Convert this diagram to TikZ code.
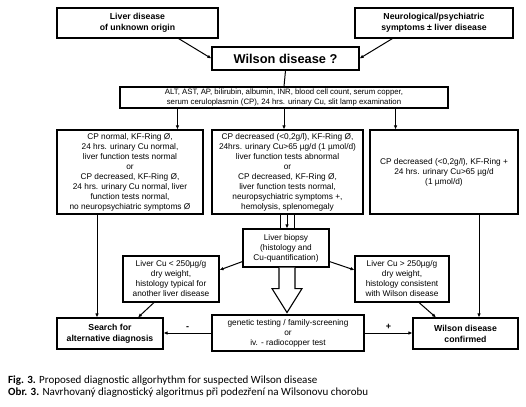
\documentclass[tikz,border=0pt]{standalone}
\usepackage{fontspec}
\setmainfont{Liberation Sans}
\newfontfamily\capfont{Carlito}
\usetikzlibrary{arrows.meta,calc}
\begin{document}
\begin{tikzpicture}[x=1pt,y=-1pt,
  box/.style={draw, line width=1.1pt, align=center, inner sep=1pt, font=\fontsize{8.3}{10}\selectfont},
  bbox/.style={box, font=\fontsize{8.7}{11}\selectfont\bfseries},
  arr/.style={line width=1pt, -{Latex[length=4pt,width=3.5pt]}},
  ln/.style={line width=1pt},
  fat/.style={draw, line width=1.1pt, fill=white, line join=miter},
  lbl/.style={font=\fontsize{9}{10}\selectfont\bfseries, inner sep=1pt}]
\useasboundingbox (0,0) rectangle (526,406);
% nodes
\node[bbox, minimum width=161, minimum height=30] (liver) at (137.5,23) {Liver disease\\of unknown origin};
\node[bbox, minimum width=158, minimum height=30] (neuro) at (434,23) {Neurological/psychiatric\\symptoms ± liver disease};
\node[box, minimum width=147, minimum height=23, font=\fontsize{12.8}{14}\selectfont\bfseries] (wilson) at (285.5,58.5) {Wilson disease ?};
\node[box, minimum width=328, minimum height=21, font=\fontsize{7.8}{9.2}\selectfont] (tests) at (284,97.5) {ALT, AST, AP, bilirubin, albumin, INR, blood cell count, serum copper,\\serum ceruloplasmin (CP), 24 hrs. urinary Cu, slit lamp examination};
\node[box, minimum width=146, minimum height=84] (leftbox) at (130,172) {CP normal, KF-Ring Ø,\\24 hrs. urinary Cu normal,\\liver function tests normal\\or\\CP decreased, KF-Ring Ø,\\24 hrs. urinary Cu normal, liver\\function tests normal,\\no neuropsychiatric symptoms Ø};
\node[box, minimum width=151, minimum height=84] (midbox) at (287.5,172) {CP decreased (<0,2g/l), KF-Ring Ø,\\24hrs. urinary Cu>65 µg/d (1 µmol/d)\\liver function tests abnormal\\or\\CP decreased, KF-Ring Ø,\\liver function tests normal,\\neuropsychiatric symptoms +,\\hemolysis, splenomegaly};
\node[box, minimum width=148, minimum height=84] (rightbox) at (444,172) {CP decreased (<0,2g/l), KF-Ring +\\24 hrs. urinary Cu>65 µg/d\\(1 µmol/d)};
\node[box, minimum width=86, minimum height=38] (biopsy) at (286,248) {Liver biopsy\\(histology and\\Cu-quantification)};
\node[box, minimum width=96, minimum height=46] (culow) at (171,279) {Liver Cu < 250µg/g\\dry weight,\\histology typical for\\another liver disease};
\node[box, minimum width=94, minimum height=46] (cuhigh) at (402,279) {Liver Cu > 250µg/g\\dry weight,\\histology consistent\\with Wilson disease};
\node[bbox, minimum width=106, minimum height=31] (search) at (110,333.5) {Search for\\alternative diagnosis};
\node[box, minimum width=152, minimum height=36] (genetic) at (288,333) {genetic testing / family-screening\\or\\iv. - radiocopper test};
\node[bbox, minimum width=105, minimum height=31] (confirmed) at (465.5,333.5) {Wilson disease\\confirmed};
% connectors
\draw[arr] ([xshift=-40pt]liver.south east) -- (wilson.west);
\draw[arr] ([xshift=38pt]neuro.south west) -- (wilson.east);
\draw[ln] (wilson.south) -- (tests.north);
\draw[arr] ([xshift=58pt]tests.south west) -- ([xshift=58pt]tests.south west |- leftbox.north);
\draw[arr] (tests.south) -- (tests.south |- midbox.north);
\draw[arr] ([xshift=-53pt]tests.south east) -- ([xshift=-53pt]tests.south east |- rightbox.north);
\draw[ln] ([xshift=-6pt]biopsy.north |- midbox.south) -- ([xshift=-6pt]biopsy.north);
\draw[arr] ([xshift=1pt]biopsy.north |- midbox.south) -- ([xshift=1pt]biopsy.north);
\draw[ln] ([xshift=8pt]biopsy.north |- midbox.south) -- ([xshift=8pt]biopsy.north);
\draw[fat] ([xshift=-7pt]biopsy.south) -- ++(0,21) -- ++(-7,0) -- ++(15,24) -- ++(15,-24) -- ++(-7,0) -- ++(0,-21);
\draw[arr] ([yshift=6pt]biopsy.south west) -- ([yshift=9pt]culow.east);
\draw[arr] ([yshift=6pt]biopsy.south east) -- ([yshift=9pt]cuhigh.west);
\draw[arr] ([xshift=-17pt]culow.south) -- ([xshift=28pt]search.north);
\draw[arr] ([xshift=17pt]cuhigh.south) -- ([xshift=-29.5pt]confirmed.north);
\draw[arr] ([xshift=-13pt]search.north |- leftbox.south) -- ([xshift=-13pt]search.north);
\draw[arr] ([xshift=13.5pt]confirmed.north |- rightbox.south) -- ([xshift=13.5pt]confirmed.north);
\draw[arr] (genetic.west) -- node[lbl, above=2pt] {-} (genetic.west -| search.east);
\draw[arr] (genetic.east) -- node[lbl, above=2pt] {+} (genetic.east -| confirmed.west);
% caption
\node[anchor=west, inner sep=0, font=\capfont\fontsize{11}{12}\selectfont] (cap1) at (8,381) {\textbf{Fig. 3.} Proposed diagnostic allgorhythm for suspected Wilson disease};
\node[anchor=west, inner sep=0, font=\capfont\fontsize{11}{12}\selectfont] (cap2) at (8,392.5) {\textbf{Obr. 3.} Navrhovaný diagnostický algoritmus při podezření na Wilsonovu chorobu};
\end{tikzpicture}
\end{document}
